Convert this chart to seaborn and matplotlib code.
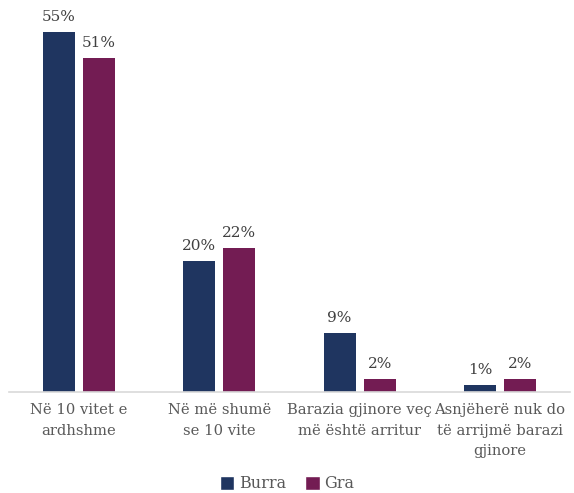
import matplotlib
matplotlib.use("Agg")
import matplotlib.pyplot as plt
from matplotlib.patches import Patch
import seaborn as sns
import pandas as pd

categories = [
    "Në 10 vitet e\nardhshme",
    "Në më shumë\nse 10 vite",
    "Barazia gjinore veç\nmë është arritur",
    "Asnjëherë nuk do\ntë arrijmë barazi\ngjinore",
]
series_names = ["Burra", "Gra"]
burra = [55, 20, 9, 1]
gra = [51, 22, 2, 2]
colors = ["#1f3560", "#731c53"]

df = pd.DataFrame({
    "cat": categories * 2,
    "grp": [series_names[0]] * 4 + [series_names[1]] * 4,
    "val": burra + gra,
})

sns.set_theme(style="white")
plt.rcParams["font.family"] = ["DejaVu Serif"]

fig = plt.figure(figsize=(5.74, 4.93), dpi=100)
ax = fig.add_axes([9 / 574, 101 / 493, 561 / 574, 487 / 493 - 101 / 493])

sns.barplot(data=df, x="cat", y="val", hue="grp", palette=colors,
            width=80 / 140, gap=0.2, order=categories,
            hue_order=series_names, ax=ax, legend=False, saturation=1,
            linewidth=0, edgecolor="none")

for cont in ax.containers:
    ax.bar_label(cont, labels=[f"{v:.0f}%" for v in cont.datavalues],
                 padding=6, fontsize=11, color="#404040")

ax.set_xlim(-0.5, 3.5)
ax.set_ylim(0, 59)
ax.set_xlabel("")
ax.set_ylabel("")
ax.set_yticks([])
ax.set_xticks(range(len(categories)))
ax.set_xticklabels(categories, linespacing=1.6, fontsize=10.6, color="#595959")
ax.tick_params(axis="x", length=0, pad=8)
for s in ["top", "left", "right"]:
    ax.spines[s].set_visible(False)
ax.spines["bottom"].set_color("#d9d9d9")
ax.spines["bottom"].set_linewidth(1.2)

handles = [Patch(facecolor=c, label=n) for c, n in zip(colors, series_names)]
fig.legend(handles=handles, loc="center", bbox_to_anchor=(0.5, 1 - 484 / 493),
           ncol=2, frameon=False, fontsize=11.5, labelcolor="#595959",
           handlelength=0.9, handleheight=0.9, handletextpad=0.3,
           columnspacing=1.2)

fig.savefig("out.png", dpi=100)
